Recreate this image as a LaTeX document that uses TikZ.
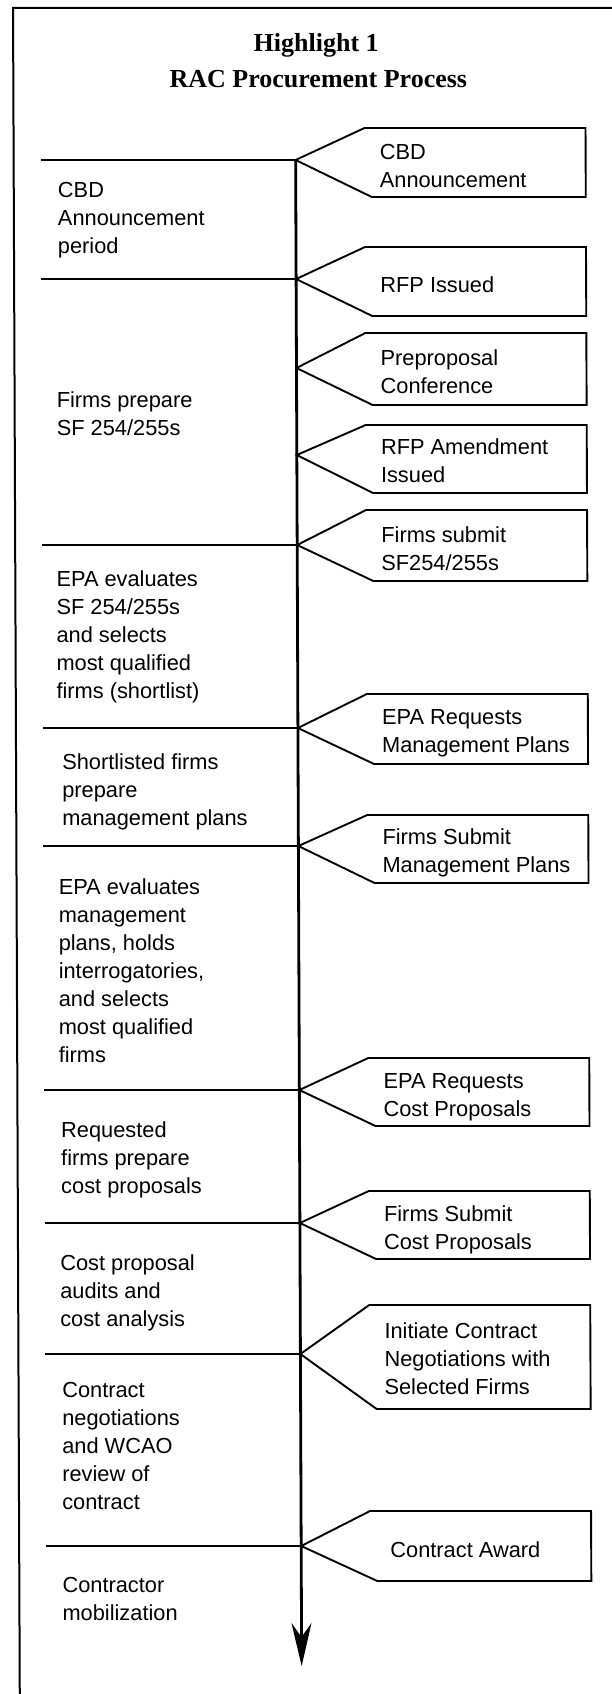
\documentclass[tikz,border=0pt]{standalone}
\usepackage{fontspec}
\setmainfont{Liberation Sans}
\newfontfamily\headfont{Liberation Serif}
\usetikzlibrary{arrows.meta}
% left-aligned stack of lines, aligned on the baseline of its first line
\newcommand\stack[1]{\begin{tabular}[t]{@{}l@{}}#1\end{tabular}}
% pennant-shaped event tag pointing at the time line
\newcommand\tagpath[3]{\draw[tag] (#1) -- (364,#2) -- (585,#2) -- (585,#3) -- (371,#3) -- cycle;}

\begin{document}
\begin{tikzpicture}[x=1pt,y=-1pt,
  frame/.style={line width=2pt},
  sep/.style={line width=2.4pt},
  spine/.style={line width=2.8pt},
  tag/.style={line width=1.9pt, line join=miter},
  txt/.style={font=\fontsize{21.8}{28}\selectfont, inner sep=0pt, anchor=base west},
  ttl/.style={font=\headfont\bfseries\fontsize{26}{35}\selectfont, inner sep=0pt, anchor=base},
]
\useasboundingbox (0,0) rectangle (611,1694);
\begin{scope}[xslant=-0.004]
  % outer frame (top and left edges)
  \draw[frame] (13,1710) -- (13,8) -- (625,8);

  % title
  \node[ttl] (h1) at (316,52) {Highlight 1};
  \node[ttl] (h2) at (318,87) {RAC Procurement Process};

  % points on the time line
  \coordinate (a1) at (295,160);
  \coordinate (a2) at (295,279);
  \coordinate (a3) at (295,368);
  \coordinate (a4) at (295,455);
  \coordinate (a5) at (295,545);
  \coordinate (a6) at (295,728);
  \coordinate (a7) at (295,846);
  \coordinate (a8) at (295,1090);
  \coordinate (a9) at (295,1223);
  \coordinate (a10) at (295,1354);
  \coordinate (a11) at (295,1546);
  \coordinate (tip) at (295,1666);

  % left ends of the phase separators
  \coordinate (s1) at (40,160);
  \coordinate (s2) at (40,279);
  \coordinate (s5) at (40,545);
  \coordinate (s6) at (40,728);
  \coordinate (s7) at (40,846);
  \coordinate (s8) at (40,1090);
  \coordinate (s9) at (40,1223);
  \coordinate (s10) at (40,1354);
  \coordinate (s11) at (40,1546);

  % time line
  \draw[spine, -{Stealth[length=43pt,width=20pt,inset=14pt]}] (a1) -- (tip);

  % phase separators
  \foreach \i in {1,2,5,6,7,8,9,10,11} \draw[sep] (s\i) -- (a\i);

  % event tags
  \tagpath{a1}{128}{197}
  \tagpath{a2}{247}{316}
  \tagpath{a3}{333}{405}
  \tagpath{a4}{425}{493}
  \tagpath{a5}{510}{581}
  \tagpath{a6}{694}{764}
  \tagpath{a7}{815}{883}
  \tagpath{a8}{1058}{1126}
  \tagpath{a9}{1191}{1259}
  \tagpath{a10}{1305}{1409}
  \tagpath{a11}{1511}{1581}

  % event labels
  \node[txt] (r1) at (379,159) {\stack{CBD\\Announcement}};
  \node[txt] (r2) at (379,292) {RFP Issued};
  \node[txt] (r3) at (379,365) {\stack{Preproposal\\Conference}};
  \node[txt] (r4) at (379,454) {\stack{RFP Amendment\\Issued}};
  \node[txt] (r5) at (379,542) {\stack{Firms submit\\SF254/255s}};
  \node[txt] (r6) at (379,724) {\stack{EPA Requests\\Management Plans}};
  \node[txt] (r7) at (379,844) {\stack{Firms Submit\\Management Plans}};
  \node[txt] (r8) at (379,1088) {\stack{EPA Requests\\Cost Proposals}};
  \node[txt] (r9) at (379,1221) {\stack{Firms Submit\\Cost Proposals}};
  \node[txt] (r10) at (379,1338) {\stack{Initiate Contract\\Negotiations with\\Selected Firms}};
  \node[txt] (r11) at (384,1557) {Contract Award};

  % phase descriptions
  \node[txt] (p1) at (57,197) {\stack{CBD\\Announcement\\period}};
  \node[txt] (p2) at (55,407) {\stack{Firms prepare\\SF 254/255s}};
  \node[txt] (p3) at (54,586) {\stack{EPA evaluates\\SF 254/255s\\and selects\\most qualified\\firms (shortlist)}};
  \node[txt] (p4) at (59,769) {\stack{Shortlisted firms\\prepare\\management plans}};
  \node[txt] (p5) at (55,894) {\stack{EPA evaluates\\management\\plans, holds\\interrogatories,\\and selects\\most qualified\\firms}};
  \node[txt] (p6) at (56.5,1137) {\stack{Requested\\firms prepare\\cost proposals}};
  \node[txt] (p7) at (55,1270) {\stack{Cost proposal\\audits and\\cost analysis}};
  \node[txt] (p8) at (56.5,1397) {\stack{Contract\\negotiations\\and WCAO\\review of\\contract}};
  \node[txt] (p9) at (56,1592) {\stack{Contractor\\mobilization}};
\end{scope}
\end{tikzpicture}
\end{document}
